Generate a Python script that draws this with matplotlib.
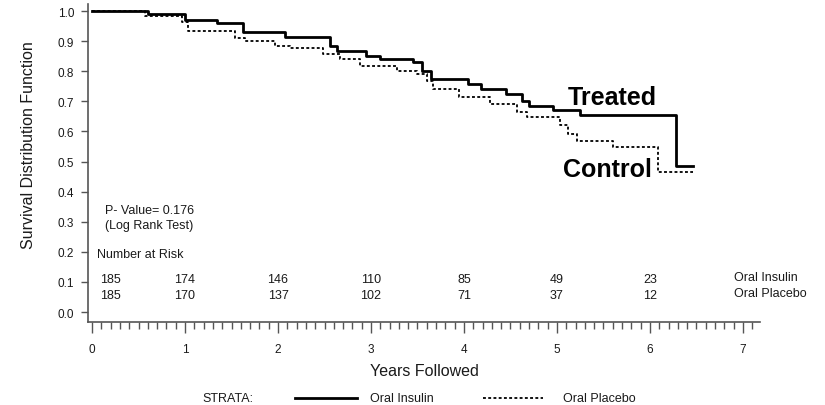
import matplotlib
matplotlib.use("Agg")
import matplotlib.pyplot as plt
from matplotlib.lines import Line2D
from matplotlib.ticker import MultipleLocator

plt.rcParams["font.family"] = ["Liberation Sans", "DejaVu Sans"]

# Kaplan-Meier step estimates (years, survival)
insulin_t = [0, 0.6, 1.0, 1.34, 1.62, 2.07, 2.56, 2.63, 2.95, 3.1, 3.45, 3.55, 3.65,
             4.04, 4.18, 4.45, 4.62, 4.7, 4.96, 5.25, 6.28, 6.46]
insulin_s = [1.0, 0.99, 0.97, 0.96, 0.93, 0.915, 0.885, 0.867, 0.85, 0.84, 0.83, 0.80, 0.775,
             0.757, 0.74, 0.724, 0.70, 0.684, 0.67, 0.655, 0.485, 0.485]

placebo_t = [0, 0.57, 0.97, 1.03, 1.54, 1.65, 1.97, 2.13, 2.48, 2.67, 2.88, 3.28, 3.5, 3.6,
             3.67, 3.95, 4.28, 4.57, 4.68, 5.03, 5.12, 5.22, 5.6, 6.09, 6.46]
placebo_s = [1.0, 0.985, 0.963, 0.935, 0.91, 0.90, 0.885, 0.877, 0.857, 0.84, 0.817, 0.80,
             0.79, 0.767, 0.74, 0.714, 0.69, 0.665, 0.648, 0.62, 0.59, 0.568, 0.548, 0.465, 0.465]

risk_years = [0, 1, 2, 3, 4, 5, 6]
risk_insulin = [185, 174, 146, 110, 85, 49, 23]
risk_placebo = [185, 170, 137, 102, 71, 37, 12]

p_value = 0.176

fig = plt.figure(figsize=(8.25, 4.06), dpi=100)
ax = fig.add_axes([0.1067, 0.2044, 0.8145, 0.783])

ink = "#1a1a1a"
ax.step(insulin_t, insulin_s, where="post", color="black", lw=2.0)
ax.step(placebo_t, placebo_s, where="post", color="black", lw=1.3, linestyle=(0, (1.6, 1.3)))

ax.set_xlim(-0.043, 7.183)
ax.set_ylim(-0.033, 1.023)
ax.xaxis.set_major_locator(MultipleLocator(1))
ax.xaxis.set_minor_locator(MultipleLocator(0.1))
ax.yaxis.set_major_locator(MultipleLocator(0.1))
ax.yaxis.set_major_formatter(lambda v, pos: f"{v:.1f}")

for side in ("top", "right"):
    ax.spines[side].set_visible(False)
for side in ("left", "bottom"):
    ax.spines[side].set_color("#555555")
    ax.spines[side].set_linewidth(1.2)

ax.tick_params(axis="both", which="major", colors="#555555", labelcolor=ink, labelsize=8.5, width=1.0)
ax.tick_params(axis="x", which="major", length=8, pad=7)
ax.tick_params(axis="x", which="minor", length=5, width=1.0, colors="#555555")
ax.tick_params(axis="y", which="major", length=5, pad=5)

ax.set_xlabel("Years Followed", fontsize=11.5, color=ink, labelpad=6)
ax.set_ylabel("Survival Distribution Function", fontsize=11.5, color=ink, va="center")
ax.yaxis.set_label_coords(-0.089, 0.56)

ax.text(0.14, 0.339, f"P- Value= {p_value:.3f}", fontsize=9, color=ink, va="center")
ax.text(0.14, 0.289, "(Log Rank Test)", fontsize=9, color=ink, va="center")
ax.text(0.05, 0.193, "Number at Risk", fontsize=9, color=ink, va="center")

for yr, n_ins, n_pla in zip(risk_years, risk_insulin, risk_placebo):
    xpos = yr if yr > 0 else 0.2
    ax.text(xpos, 0.11, str(n_ins), fontsize=9, color=ink, ha="center", va="center")
    ax.text(xpos, 0.057, str(n_pla), fontsize=9, color=ink, ha="center", va="center")
ax.text(6.9, 0.115, "Oral Insulin", fontsize=9, color=ink, va="center")
ax.text(6.9, 0.063, "Oral Placebo", fontsize=9, color=ink, va="center")

ax.text(5.12, 0.715, "Treated", fontsize=18, fontweight="bold", color="black", va="center")
ax.text(5.07, 0.475, "Control", fontsize=18, fontweight="bold", color="black", va="center")

# strata legend along the bottom of the figure
leg_y = 0.017
fig.text(202 / 825, leg_y, "STRATA:", fontsize=9, color=ink, va="center")
fig.add_artist(Line2D([295 / 825, 357 / 825], [leg_y, leg_y], color="black", lw=2.0))
fig.text(370 / 825, leg_y, "Oral Insulin", fontsize=9, color=ink, va="center")
fig.add_artist(Line2D([483 / 825, 543 / 825], [leg_y, leg_y], color="black", lw=1.3,
                      linestyle=(0, (1.6, 1.3))))
fig.text(563 / 825, leg_y, "Oral Placebo", fontsize=9, color=ink, va="center")

fig.savefig("out.png", dpi=100)
